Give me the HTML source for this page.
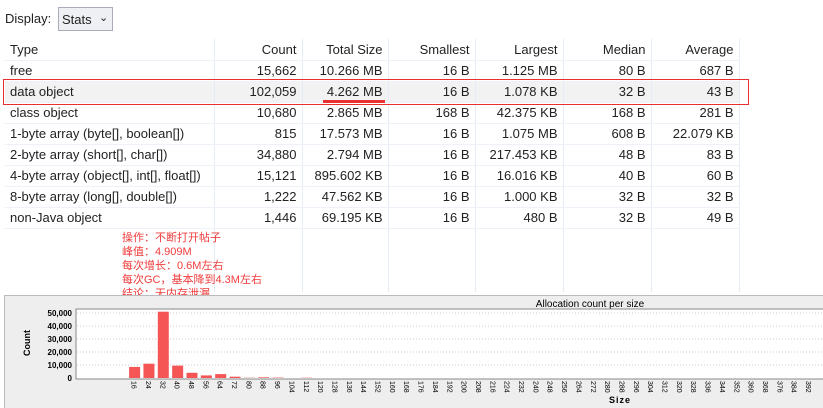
<!DOCTYPE html>
<html><head><meta charset="utf-8"><style>
body{margin:0;width:823px;height:407px;background:#fff;font-family:"Liberation Sans","Noto Sans CJK SC",sans-serif;font-size:13px;color:#222;position:relative;overflow:hidden}
.abs{position:absolute}
table{position:absolute;left:5px;top:39px;border-collapse:collapse}
td{height:21px;padding:0 5px;border-right:1px solid #e6ecf5;border-bottom:1px solid #eef2f8;white-space:nowrap;text-align:right;box-sizing:border-box}
td:first-child{text-align:left}
tr.sel td{background:#f2f2f2}
tr.empty td{height:64px;border-bottom:none}
.note{position:absolute;left:122px;color:#f03c3c;font-size:11px;line-height:14px}
</style></head><body>
<div class="abs" style="left:5px;top:11px">Display:</div>
<div class="abs" style="left:58px;top:7px;width:55px;height:24px;border:1px solid #aab;background:#eef0f3;box-sizing:border-box;padding:4px 0 0 3px;white-space:nowrap">Stats<span style="position:absolute;left:40px;top:3px;font-size:11px">&#8964;</span></div>
<table>
<tr><td style="width:209px">Type</td><td style="width:88px">Count</td><td style="width:86px">Total Size</td><td style="width:87px">Smallest</td><td style="width:88px">Largest</td><td style="width:88px">Median</td><td style="width:88px">Average</td></tr>
<tr><td>free</td><td>15,662</td><td>10.266 MB</td><td>16 B</td><td>1.125 MB</td><td>80 B</td><td>687 B</td></tr>
<tr class="sel"><td>data object</td><td>102,059</td><td>4.262 MB</td><td>16 B</td><td>1.078 KB</td><td>32 B</td><td>43 B</td></tr>
<tr><td>class object</td><td>10,680</td><td>2.865 MB</td><td>168 B</td><td>42.375 KB</td><td>168 B</td><td>281 B</td></tr>
<tr><td>1-byte array (byte[], boolean[])</td><td>815</td><td>17.573 MB</td><td>16 B</td><td>1.075 MB</td><td>608 B</td><td>22.079 KB</td></tr>
<tr><td>2-byte array (short[], char[])</td><td>34,880</td><td>2.794 MB</td><td>16 B</td><td>217.453 KB</td><td>48 B</td><td>83 B</td></tr>
<tr><td>4-byte array (object[], int[], float[])</td><td>15,121</td><td>895.602 KB</td><td>16 B</td><td>16.016 KB</td><td>40 B</td><td>60 B</td></tr>
<tr><td>8-byte array (long[], double[])</td><td>1,222</td><td>47.562 KB</td><td>16 B</td><td>1.000 KB</td><td>32 B</td><td>32 B</td></tr>
<tr><td>non-Java object</td><td>1,446</td><td>69.195 KB</td><td>16 B</td><td>480 B</td><td>32 B</td><td>49 B</td></tr>
<tr class="empty"><td></td><td></td><td></td><td></td><td></td><td></td><td></td></tr>
</table>
<div class="abs" style="left:3px;top:79px;width:744px;height:24px;border:1px solid #e83030"></div>
<div class="abs" style="left:323px;top:100px;width:62px;height:3px;background:#e83030"></div>
<div class="note" style="top:231px">操作：不断打开帖子<br>峰值：4.909M<br>每次增长：0.6M左右<br>每次GC，基本降到4.3M左右<br>结论：无内存泄漏</div>
<div class="abs" style="left:4px;top:295px;width:819px;height:112px;background:#eeeeee;border-left:1px solid #bbb;border-top:1px solid #bbb"></div>
<svg class="abs" style="left:0;top:0" width="823" height="407">
<text x="590" y="307" font-size="10" text-anchor="middle" font-family="Liberation Sans">Allocation count per size</text>
<rect x="76" y="309" width="760" height="70" fill="#fff" stroke="#888"/>
<g id="grid"></g><g id="bars"></g><g id="xl"></g>
<text transform="translate(30,343) rotate(-90)" font-size="9" font-weight="bold" text-anchor="middle">Count</text>
<text x="620" y="403" font-size="9" font-weight="bold" text-anchor="middle" letter-spacing="1">Size</text>
</svg>
<script>
const yTicks=[0,10000,20000,30000,40000,50000];
const yTickLabels=["0","10,000","20,000","30,000","40,000","50,000"];
const sizes=[16,24,32,40,48,56,64,72,80,88,96,104,112,120,128,136,144,152,160,168,176,184,192,200,208,216,224,232,240,248,256,264,272,280,288,296,304,312,320,328,336,344,352,360,368,376,384,392];
const counts=[8500,11000,51000,9500,4000,2000,3000,1000,200,500,300,0,200,0,0,0,0,0,0,0,0,0,0,0,0,0,0,0,0,0,0,0,0,0,0,0,0,0,0,0,0,0,0,0,0,0,0,0];
const NS="http://www.w3.org/2000/svg";
const y=v=>378-v*65/50000;
const slot=14.35, x=i=>76+(i+3.7)*slot;
const g=document.getElementById('grid'),b=document.getElementById('bars'),xl=document.getElementById('xl');
yTicks.forEach((t,i)=>{
 if(t>0){const l=document.createElementNS(NS,'line');l.setAttribute('x1',77);l.setAttribute('x2',835);l.setAttribute('y1',y(t));l.setAttribute('y2',y(t));l.setAttribute('stroke','#ccc');l.setAttribute('stroke-dasharray','1,2');
 
 g.appendChild(l);}
 const tx=document.createElementNS(NS,'text');tx.setAttribute('x',72);tx.setAttribute('y',y(t)+3);tx.setAttribute('font-size','8');tx.setAttribute('font-weight','bold');tx.setAttribute('text-anchor','end');tx.textContent=yTickLabels[i];
 
 g.appendChild(tx);
});
counts.forEach((c,i)=>{
 if(c>0){const r=document.createElementNS(NS,'rect');r.setAttribute('x',x(i));r.setAttribute('y',y(c));r.setAttribute('width',11);r.setAttribute('height',378-y(c));r.setAttribute('fill','#f55555');
 
 b.appendChild(r);}
 const t=document.createElementNS(NS,'text');const cx=x(i)+5.5;
 t.setAttribute('transform','translate('+(cx-3)+',381) rotate(90)');t.setAttribute('font-size','7');t.textContent=sizes[i];
 
 xl.appendChild(t);
});
</script>
</body></html>
